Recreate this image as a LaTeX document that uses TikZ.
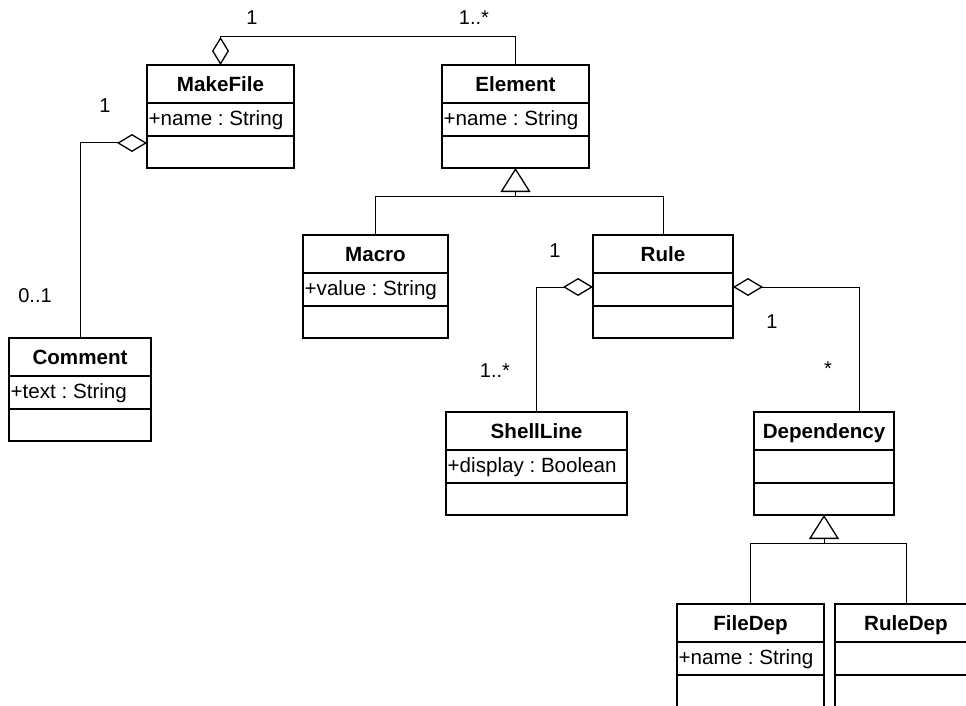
\documentclass[tikz,border=0pt]{standalone}
\usepackage{fontspec}
\setmainfont{Liberation Sans}
\usetikzlibrary{arrows.meta,calc}
\frenchspacing

\tikzset{
  classbox/.style={draw, line width=1.8pt, rectangle, minimum height=103pt,
    inner sep=0pt, outer sep=0pt, anchor=north west},
  divider/.style={line width=1.8pt},
  classname/.style={anchor=base, inner sep=0pt,
    font=\fontsize{20.6}{24}\selectfont\bfseries},
  classattr/.style={anchor=base west, inner sep=0pt,
    font=\fontsize{20.6}{24}\selectfont},
  mult/.style={anchor=base, inner sep=0pt, font=\fontsize{20}{24}\selectfont},
  link/.style={line width=1pt},
  aggv/.style={link, {Diamond[open,length=28pt,width=17pt,line width=1.3pt]}-},
  aggh/.style={link, {Diamond[open,length=30pt,width=18pt,line width=1.3pt]}-},
  inherit/.style={link, {Triangle[open,length=24pt,width=30pt,line width=1.3pt]}-},
}

% UML class: node name, left, top, width, class name, attribute
\newcommand\umlclass[6]{%
  \node[classbox, minimum width=#4pt] (#1) at (#2,#3) {};
  \draw[divider] ($(#1.north west)+(0,38)$) -- ($(#1.north east)+(0,38)$);
  \draw[divider] ($(#1.north west)+(0,71)$) -- ($(#1.north east)+(0,71)$);
  \node[classname] (#1-name) at ($(#1.north)+(0,26.5)$) {#5};
  \node[classattr] (#1-attr) at ($(#1.north west)+(1.5,60)$) {#6};
}

\begin{document}
\begin{tikzpicture}[x=1pt,y=-1pt]
  \useasboundingbox (0,0) rectangle (966,706);
  \clip (0,0) rectangle (966,706);

  % classes
  \umlclass{makefile}{147}{65}{147}{MakeFile}{+name : String}
  \umlclass{element}{442}{65}{147}{Element}{+name : String}
  \umlclass{comment}{9}{338}{142}{Comment}{+text : String}
  \umlclass{macro}{303}{235}{145}{Macro}{+value : String}
  \umlclass{rule}{593}{235}{140}{Rule}{}
  \umlclass{shellline}{446}{412}{181}{ShellLine}{+display : Boolean}
  \umlclass{dependency}{754}{412}{140}{Dependency}{}
  \umlclass{filedep}{677}{604}{147}{FileDep}{+name : String}
  \umlclass{ruledep}{835}{604}{142}{RuleDep}{}

  % aggregations
  \draw[aggv] (makefile.north) -- ++(0,-28) -| (element.north);
  \draw[aggh] (makefile.west |- 0,143) -| (comment.north);
  \draw[aggh] (rule.west |- 0,287) -| (shellline.north);
  \coordinate (depin) at ($(dependency.north)+(35,0)$);
  \draw[aggh] (rule.east |- 0,287) -| (depin);

  % generalizations
  \coordinate (genA) at ($(element.south)+(0,28)$);
  \draw[inherit] (element.south) -- (genA);
  \draw[link] (genA) -| (macro.north);
  \draw[link] (genA) -| (rule.north);
  \coordinate (genB) at ($(dependency.south)+(0,28)$);
  \draw[inherit] (dependency.south) -- (genB);
  \draw[link] (genB) -| (filedep.north);
  \draw[link] (genB) -| (ruledep.north);

  % multiplicities
  \node[mult] (m1) at (252,25) {1};
  \node[mult] (m2) at (474,25) {1..*};
  \node[mult] (m3) at (105,113) {1};
  \node[mult] (m4) at (35,302) {0..1};
  \node[mult] (m5) at (555,257) {1};
  \node[mult] (m6) at (495,377) {1..*};
  \node[mult] (m7) at (772,328) {1};
  \node[mult] (m8) at (828,375) {*};
\end{tikzpicture}
\end{document}
